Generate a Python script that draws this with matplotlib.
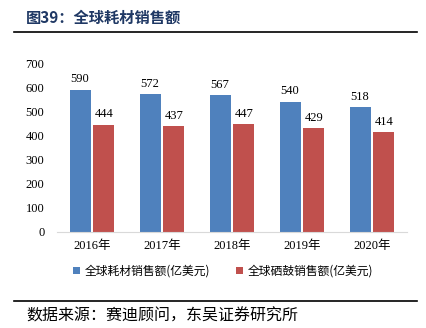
import matplotlib.pyplot as plt
import numpy as np

years = ['2016年', '2017年', '2018年', '2019年', '2020年']
consumables = [590, 572, 567, 540, 518]
kettles = [444, 437, 447, 429, 414]
series_names = ['全球耗材销售额(亿美元)', '全球硒鼓销售额(亿美元)']

plt.rcParams['font.family'] = ['Liberation Serif', 'Noto Sans CJK SC']

fig = plt.figure(figsize=(4.26, 3.28), dpi=100)
ax = fig.add_axes([57 / 426, 1 - 232 / 328, 350 / 426, 169 / 328])

x = np.arange(len(years))
w = 0.3
b1 = ax.bar(x - 0.17, consumables, w, color='#4F81BD', label=series_names[0])
b2 = ax.bar(x + 0.17, kettles, w, color='#C0504D', label=series_names[1])
for bars in (b1, b2):
    for r in bars:
        ax.text(r.get_x() + r.get_width() / 2, r.get_height() + 18, str(int(r.get_height())),
                ha='center', va='bottom', fontsize=9)

ax.set_xlim(-0.5, 4.5)
ax.set_ylim(0, 700)
ax.set_yticks(range(0, 701, 100))
ax.set_xticks(x)
ax.set_xticklabels(years, fontsize=9)
ax.tick_params(axis='y', labelsize=9, length=0, pad=9)
ax.tick_params(axis='x', length=0, pad=6)
for s in ['top', 'right', 'left']:
    ax.spines[s].set_visible(False)
ax.spines['bottom'].set_color('#D9D9D9')

ax.legend(loc='upper center', bbox_to_anchor=(0.475, -0.13), ncol=2, frameon=False,
          handlelength=0.6, handleheight=0.6, columnspacing=2.2, handletextpad=0.4,
          prop={'family': ['Noto Sans CJK SC'], 'size': 8.5})

fig.text(26 / 426, 1 - 18 / 328, '图39：全球耗材销售额', fontsize=11, fontweight='bold',
         color='#1F3864', va='center', family=['Noto Sans CJK SC'])
fig.add_artist(plt.Line2D([14 / 426, 417 / 426], [1 - 32 / 328] * 2, color='black', lw=1.2))
fig.add_artist(plt.Line2D([14 / 426, 417 / 426], [1 - 301 / 328] * 2, color='black', lw=1.2))
fig.text(26 / 426, 1 - 316 / 328, '数据来源：赛迪顾问，东吴证券研究所', fontsize=11.5,
         va='center', family=['Noto Sans CJK SC'])

fig.savefig('out.png', dpi=100)
